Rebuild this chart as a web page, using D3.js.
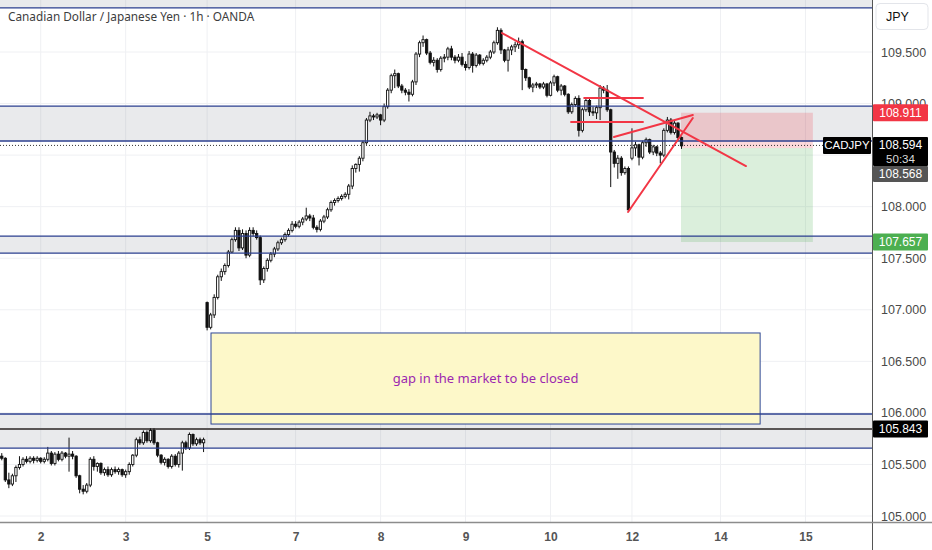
<!DOCTYPE html>
<html><head>
<meta charset="utf-8">
<title>CADJPY 1h</title>
<script src="https://cdn.jsdelivr.net/npm/d3@7"></script>
<style>
  body { margin: 0; background: #fff; }
  svg { display: block; font-family: "Liberation Sans", Arial, sans-serif; }
</style>
</head>
<body>
<svg id="chart" width="932" height="550"></svg>
<script>

// hourly candles, [open, high, low, close]
var ohlc = [
  [105.58,105.61,105.54,105.56],[105.56,105.57,105.33,105.35],[105.35,105.42,105.27,105.31],[105.31,105.41,105.29,105.39],
  [105.39,105.49,105.33,105.47],[105.47,105.58,105.45,105.50],[105.50,105.57,105.48,105.55],[105.55,105.58,105.51,105.53],
  [105.53,105.58,105.51,105.56],[105.56,105.58,105.51,105.54],[105.54,105.58,105.52,105.56],[105.56,105.57,105.51,105.53],
  [105.53,105.57,105.51,105.55],[105.55,105.67,105.53,105.61],[105.61,105.63,105.49,105.51],[105.51,105.62,105.49,105.60],
  [105.60,105.63,105.53,105.55],[105.55,105.63,105.53,105.61],[105.61,105.62,105.56,105.58],[105.58,105.76,105.43,105.60],
  [105.60,105.63,105.55,105.58],[105.58,105.59,105.37,105.39],[105.39,105.40,105.22,105.26],[105.26,105.30,105.21,105.24],
  [105.24,105.32,105.22,105.30],[105.30,105.57,105.28,105.55],[105.55,105.58,105.44,105.48],[105.48,105.52,105.43,105.51],
  [105.51,105.52,105.40,105.42],[105.42,105.47,105.39,105.45],[105.45,105.48,105.38,105.40],[105.40,105.47,105.38,105.45],
  [105.45,105.48,105.41,105.43],[105.43,105.47,105.40,105.45],[105.45,105.46,105.38,105.40],[105.40,105.45,105.37,105.43],
  [105.43,105.52,105.40,105.50],[105.50,105.60,105.48,105.59],[105.59,105.76,105.57,105.74],[105.74,105.77,105.69,105.71],
  [105.71,105.83,105.69,105.81],[105.81,105.83,105.71,105.73],[105.73,105.85,105.71,105.83],[105.83,105.85,105.69,105.71],
  [105.71,105.72,105.57,105.59],[105.59,105.60,105.50,105.52],[105.52,105.57,105.49,105.55],[105.55,105.56,105.46,105.48],
  [105.48,105.60,105.46,105.58],[105.58,105.60,105.48,105.50],[105.50,105.63,105.47,105.61],[105.61,105.73,105.44,105.71],
  [105.71,105.73,105.64,105.66],[105.66,105.81,105.64,105.79],[105.79,105.80,105.68,105.70],[105.70,105.76,105.68,105.74],
  [105.74,105.76,105.69,105.71],[105.71,105.76,105.62,105.74],
  [107.07,107.08,106.80,106.83],[106.83,106.97,106.81,106.95],[106.95,107.15,106.92,107.12],[107.12,107.34,107.10,107.32],
  [107.32,107.40,107.28,107.37],[107.37,107.45,107.34,107.43],[107.43,107.58,107.41,107.56],[107.56,107.70,107.55,107.68],
  [107.68,107.80,107.66,107.77],[107.77,107.80,107.57,107.60],[107.60,107.78,107.58,107.74],[107.74,107.77,107.50,107.53],
  [107.53,107.80,107.51,107.77],[107.77,107.80,107.71,107.74],[107.74,107.77,107.68,107.70],[107.70,107.72,107.24,107.29],
  [107.29,107.42,107.26,107.40],[107.40,107.50,107.37,107.48],[107.48,107.56,107.46,107.54],[107.54,107.61,107.51,107.59],
  [107.59,107.67,107.57,107.65],[107.65,107.70,107.63,107.68],[107.68,107.75,107.66,107.73],[107.73,107.79,107.71,107.77],
  [107.77,107.86,107.75,107.83],[107.83,107.86,107.79,107.81],[107.81,107.87,107.79,107.85],[107.85,107.90,107.82,107.88],
  [107.88,107.99,107.86,107.91],[107.91,107.93,107.86,107.89],[107.89,107.92,107.78,107.80],[107.80,107.82,107.75,107.78],
  [107.78,107.88,107.76,107.86],[107.86,107.92,107.84,107.90],[107.90,107.99,107.88,107.97],[107.97,108.06,107.95,108.04],
  [108.04,108.08,108.01,108.06],[108.06,108.10,108.04,108.08],[108.08,108.12,108.06,108.10],[108.10,108.14,108.08,108.12],
  [108.12,108.22,108.07,108.20],[108.20,108.40,108.17,108.37],[108.37,108.42,108.33,108.41],[108.41,108.49,108.34,108.47],
  [108.47,108.64,108.44,108.62],[108.62,108.86,108.60,108.84],[108.84,108.92,108.82,108.88],[108.88,108.90,108.84,108.87],
  [108.87,108.91,108.85,108.89],[108.89,108.90,108.79,108.84],[108.84,109.00,108.82,108.97],[108.97,109.15,108.95,109.13],
  [109.13,109.29,109.10,109.27],[109.27,109.33,109.15,109.29],[109.29,109.30,109.15,109.17],[109.17,109.19,109.10,109.13],
  [109.13,109.15,109.08,109.11],[109.11,109.14,109.02,109.09],[109.09,109.23,109.07,109.21],[109.21,109.50,109.18,109.48],
  [109.48,109.61,109.45,109.59],[109.59,109.66,109.55,109.62],[109.62,109.63,109.47,109.49],[109.49,109.51,109.38,109.40],
  [109.40,109.45,109.36,109.42],[109.42,109.44,109.30,109.33],[109.33,109.46,109.31,109.44],[109.44,109.48,109.40,109.45],
  [109.45,109.55,109.42,109.53],[109.53,109.56,109.42,109.45],[109.45,109.47,109.39,109.42],[109.42,109.48,109.40,109.45],
  [109.45,109.49,109.36,109.38],[109.38,109.41,109.32,109.35],[109.35,109.51,109.33,109.48],[109.48,109.50,109.30,109.37],
  [109.37,109.49,109.35,109.47],[109.47,109.48,109.37,109.39],[109.39,109.44,109.37,109.42],[109.42,109.47,109.40,109.45],
  [109.45,109.52,109.43,109.50],[109.50,109.61,109.48,109.59],[109.59,109.74,109.57,109.71],[109.71,109.73,109.48,109.52],
  [109.52,109.53,109.40,109.42],[109.42,109.55,109.31,109.52],[109.52,109.57,109.47,109.55],[109.55,109.60,109.50,109.57],
  [109.57,109.64,109.53,109.60],[109.60,109.62,109.13,109.33],[109.33,109.34,109.22,109.25],[109.25,109.26,109.14,109.16],
  [109.16,109.20,109.11,109.18],[109.18,109.21,109.15,109.19],[109.19,109.20,109.14,109.16],[109.16,109.21,109.14,109.19],
  [109.19,109.20,109.06,109.08],[109.08,109.22,109.07,109.20],[109.20,109.28,109.17,109.26],[109.26,109.27,109.11,109.13],
  [109.13,109.19,109.08,109.17],[109.17,109.18,109.07,109.09],[109.09,109.10,108.90,108.92],[108.92,109.01,108.90,108.99],
  [108.99,109.07,108.97,109.05],[109.05,109.08,108.68,108.74],[108.74,108.96,108.72,108.94],[108.94,109.06,108.92,109.03],
  [109.03,109.05,108.88,108.92],[108.92,108.97,108.88,108.91],[108.91,108.98,108.85,108.96],[108.96,109.18,108.84,109.15],
  [109.15,109.17,109.10,109.13],[109.13,109.18,108.92,108.94],[108.94,108.95,108.19,108.53],[108.53,108.55,108.38,108.42],
  [108.42,108.50,108.27,108.47],[108.47,108.49,108.30,108.33],[108.33,108.39,108.31,108.37],[108.37,108.39,107.95,107.97],
  [108.47,108.76,108.45,108.57],[108.57,108.63,108.49,108.60],[108.60,108.61,108.40,108.48],[108.48,108.64,108.46,108.62],
  [108.62,108.67,108.58,108.65],[108.65,108.66,108.51,108.53],[108.53,108.60,108.50,108.58],[108.58,108.59,108.49,108.52],
  [108.52,108.54,108.42,108.50],[108.50,108.76,108.48,108.74],[108.74,108.87,108.72,108.84],[108.84,108.86,108.70,108.72],
  [108.72,108.83,108.70,108.81],[108.81,108.82,108.64,108.67],[108.67,108.68,108.56,108.59]
];

var dayTickIndex = [11, 35, 58, 83, 107, 131, 155, 178, 203, 227];
var dayTickLabels = ["2", "3", "5", "7", "8", "9", "10", "12", "14", "15"];
var priceTicks = [105, 105.5, 106, 106.5, 107, 107.5, 108, 108.5, 109, 109.5];

// support / resistance zones [low, high]
var zones = [[109.927, 110.4], [108.637, 108.976], [107.550, 107.715], [105.659, 105.989]];
var hLine = 105.843;

var lastPrice = 108.594, countdown = "50:34", prevPrice = 108.568;
var posStart = 191.85, posEnd = 229.1;
var posStop = 108.911, posEntry = 108.568, posTarget = 107.657;

// drawn trend lines, [[bar, price], [bar, price]]
var trendLines = [
  [[141.3, 109.684], [210.2, 108.394]],
  [[164.5, 109.054], [181.1, 109.054]],
  [[160.8, 108.821], [181.1, 108.821]],
  [[172.9, 108.676], [195.2, 108.889]],
  [[176.9, 107.948], [195.2, 108.860]]
];

var gapBox = [[59.1, 106.775], [214.2, 105.892]];
var gapText = "gap in the market to be closed";

var W = 932, H = 550, plotW = 872, plotH = 522;

var svg = d3.select("#chart");

var x = d3.scaleLinear().domain([-0.5, 245.8]).range([0, plotW]);
var y = d3.scaleLinear().domain([105, 109.5]).range([516, 52]);

svg.append("rect").attr("width", W).attr("height", H).attr("fill", "#fff");

svg.append("clipPath").attr("id", "plot")
  .append("rect").attr("width", plotW).attr("height", plotH);

var plot = svg.append("g").attr("clip-path", "url(#plot)");

// grid
plot.selectAll("line.hg").data(priceTicks).join("line")
  .attr("x1", 0).attr("x2", plotW)
  .attr("y1", function(d) { return y(d); }).attr("y2", function(d) { return y(d); })
  .attr("stroke", "#eff0f3").attr("stroke-width", 1);

plot.selectAll("line.vg").data(dayTickIndex).join("line")
  .attr("x1", function(d) { return x(d); }).attr("x2", function(d) { return x(d); })
  .attr("y1", 0).attr("y2", plotH)
  .attr("stroke", "#eff0f3").attr("stroke-width", 1);

// zones
plot.selectAll("rect.zone").data(zones).join("rect")
  .attr("x", 0).attr("width", plotW)
  .attr("y", function(d) { return y(d[1]); })
  .attr("height", function(d) { return y(d[0]) - y(d[1]); })
  .attr("fill", "rgba(120,123,134,0.16)");

// gap box
plot.append("rect")
  .attr("x", x(gapBox[0][0])).attr("y", y(gapBox[0][1]))
  .attr("width", x(gapBox[1][0]) - x(gapBox[0][0]))
  .attr("height", y(gapBox[1][1]) - y(gapBox[0][1]))
  .attr("fill", "#fdf8c9").attr("stroke", "#2e4796").attr("stroke-width", 1);

plot.append("text")
  .attr("x", (x(gapBox[0][0]) + x(gapBox[1][0])) / 2)
  .attr("y", (y(gapBox[0][1]) + y(gapBox[1][1])) / 2 + 4)
  .attr("text-anchor", "middle")
  .attr("fill", "#9c27b0")
  .style("font-size", "13px")
  .style("font-family", "'Noto Sans', sans-serif")
  .text(gapText);

// position tool
plot.append("rect")
  .attr("x", x(posStart)).attr("width", x(posEnd) - x(posStart))
  .attr("y", y(posStop)).attr("height", y(posEntry) - y(posStop))
  .attr("fill", "rgba(242,54,69,0.2)");
plot.append("rect")
  .attr("x", x(posStart)).attr("width", x(posEnd) - x(posStart))
  .attr("y", y(posEntry)).attr("height", y(posTarget) - y(posEntry))
  .attr("fill", "rgba(76,175,80,0.2)");

// horizontal line and last price line
plot.append("line")
  .attr("x1", 0).attr("x2", plotW).attr("y1", y(hLine)).attr("y2", y(hLine))
  .attr("stroke", "#5a5656").attr("stroke-width", 2);

plot.append("line")
  .attr("x1", 0).attr("x2", plotW).attr("y1", y(lastPrice)).attr("y2", y(lastPrice))
  .attr("stroke", "#333").attr("stroke-width", 1).attr("stroke-dasharray", "1,2");

// candles
var bw = 2.3;
plot.selectAll("line.wick").data(ohlc).join("line")
  .attr("x1", function(d, i) { return x(i); }).attr("x2", function(d, i) { return x(i); })
  .attr("y1", function(d) { return y(d[1]); }).attr("y2", function(d) { return y(d[2]); })
  .attr("stroke", "#111").attr("stroke-width", 1);

plot.selectAll("rect.body").data(ohlc).join("rect")
  .attr("x", function(d, i) { return x(i) - bw / 2; })
  .attr("width", bw)
  .attr("y", function(d) { return y(Math.max(d[0], d[3])); })
  .attr("height", function(d) { return Math.max(0.8, Math.abs(y(d[0]) - y(d[3]))); })
  .attr("fill", function(d) { return d[3] >= d[0] ? "#fff" : "#111"; })
  .attr("stroke", "#111").attr("stroke-width", 0.9);

// zone borders
var edges = [];
zones.forEach(function(z) { edges.push(z[0], z[1]); });
plot.selectAll("line.edge").data(edges).join("line")
  .attr("x1", 0).attr("x2", plotW)
  .attr("y1", function(d) { return y(d); }).attr("y2", function(d) { return y(d); })
  .attr("stroke", "#2b3f8f").attr("stroke-width", 1.3);

// trend lines
plot.selectAll("line.trend").data(trendLines).join("line")
  .attr("x1", function(d) { return x(d[0][0]); }).attr("y1", function(d) { return y(d[0][1]); })
  .attr("x2", function(d) { return x(d[1][0]); }).attr("y2", function(d) { return y(d[1][1]); })
  .attr("stroke", "#f23645").attr("stroke-width", 2).attr("stroke-linecap", "round");

// title
svg.append("text")
  .attr("x", 8).attr("y", 21)
  .attr("fill", "#3d3d3d")
  .style("font-size", "11.8px")
  .style("font-family", "'Noto Sans', sans-serif")
  .text("Canadian Dollar / Japanese Yen \u00b7 1h \u00b7 OANDA");

// price scale
svg.append("rect").attr("x", plotW).attr("y", 0).attr("width", W - plotW).attr("height", H).attr("fill", "#fff");

// tick labels under the last-price tag block are hidden, as on the platform
var yAxis = d3.axisRight(y).tickValues(priceTicks)
  .tickFormat(function(d) { return Math.abs(y(d) - y(lastPrice)) < 36 ? "" : d3.format(".3f")(d); })
  .tickSize(0).tickPadding(9);
var ya = svg.append("g").attr("transform", "translate(" + plotW + ",0)").call(yAxis);
ya.select(".domain").remove();
ya.selectAll("text").attr("fill", "#4a4a4a").style("font-size", "12.5px").style("font-family", "'Liberation Sans', Arial, sans-serif");

// time scale
var xAxis = d3.axisBottom(x).tickValues(dayTickIndex)
  .tickFormat(function(d, i) { return dayTickLabels[i]; }).tickSize(0).tickPadding(10);
var xa = svg.append("g").attr("transform", "translate(0," + plotH + ")").call(xAxis);
xa.select(".domain").remove();
xa.selectAll("text").attr("fill", "#555").style("font-size", "12px").style("font-weight", "bold")
  .style("font-family", "'Liberation Sans', Arial, sans-serif");

svg.append("line").attr("x1", plotW + 0.5).attr("x2", plotW + 0.5).attr("y1", 0).attr("y2", H)
  .attr("stroke", "#555").attr("stroke-width", 1);
svg.append("line").attr("x1", 0).attr("x2", W).attr("y1", plotH + 0.5).attr("y2", plotH + 0.5)
  .attr("stroke", "#8c8c8c").attr("stroke-width", 1.5);

// price tags
var f3 = d3.format(".3f");
function tag(top, h, bg, lines) {
  var g = svg.append("g");
  g.append("rect").attr("x", plotW + 1).attr("y", top).attr("width", 55).attr("height", h).attr("fill", bg).attr("rx", 1);
  lines.forEach(function(l, k) {
    g.append("text").attr("x", plotW + 28.5).attr("y", top + 12.5 + k * 14)
      .attr("text-anchor", "middle").attr("fill", l[1])
      .style("font-size", k ? "11.5px" : "12px").text(l[0]);
  });
}
tag(y(posStop) - 8.5, 17, "#f23645", [[f3(posStop), "#fff"]]);
tag(y(posTarget) - 8.5, 17, "#4caf50", [[f3(posTarget), "#fff"]]);
tag(y(hLine) - 8.5, 17, "#000", [[f3(hLine), "#fff"]]);
tag(y(lastPrice) - 8.5, 29, "#000", [[f3(lastPrice), "#fff"], [countdown, "#ddd"]]);
tag(y(lastPrice) + 20.5, 16, "#555", [[f3(prevPrice), "#fff"]]);

// symbol tag
svg.append("rect").attr("x", 823).attr("y", y(lastPrice) - 8.5).attr("width", 48).attr("height", 17).attr("fill", "#000").attr("rx", 1);
svg.append("text").attr("x", 847).attr("y", y(lastPrice) + 4).attr("text-anchor", "middle")
  .attr("fill", "#fff").style("font-size", "11.5px").text("CADJPY");

// currency button
svg.append("rect").attr("x", 876).attr("y", 3.5).attr("width", 52).attr("height", 26).attr("rx", 4)
  .attr("fill", "#fff").attr("stroke", "#e3e5ea");
svg.append("text").attr("x", 886).attr("y", 21).attr("fill", "#111").style("font-size", "12.5px").text("JPY");

</script>
</body></html>
